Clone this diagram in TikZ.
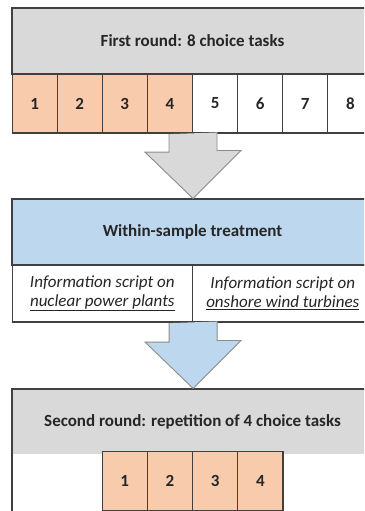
\documentclass[tikz,border=0pt]{standalone}
\usepackage{fontspec}
\setmainfont{Carlito}
\usetikzlibrary{calc}

\definecolor{hdgray}{HTML}{D9D9D9}
\definecolor{hdblue}{HTML}{BDD7EE}
\definecolor{salmon}{HTML}{F8CBAD}
\definecolor{linec}{HTML}{404040}
\definecolor{arrowline}{HTML}{8C8C8C}
\definecolor{txt}{HTML}{262626}

\tikzset{
  box/.style={draw=linec, line width=1.1pt, inner sep=0pt, text=txt},
  cell/.style={box, minimum width=45.1pt, minimum height=59pt, font=\fontsize{17}{20}\selectfont\bfseries},
  header/.style={box, minimum width=361pt, minimum height=66pt, font=\fontsize{17}{20}\selectfont\bfseries},
  info/.style={box, minimum width=180.5pt, minimum height=57pt, align=center, font=\fontsize{17}{19}\selectfont\itshape},
  blockarrow/.style={line width=0.9pt, draw=arrowline, line join=miter}
}

\begin{document}
\begin{tikzpicture}[x=1pt, y=-1pt]
        \useasboundingbox (0,0) rectangle (364,511);
        \clip (0,0) rectangle (364,511);
        \begin{scope}[every node/.append style={fill=white}]
                \node[header, fill=hdgray] (fr) at (192.5,41) {First round: 8 choice tasks};
                \node[cell, fill=salmon] (c1) at (34.6,103.5) {1};
                \node[cell, fill=salmon] (c2) at (79.7,103.5) {2};
                \node[cell, fill=salmon] (c3) at (124.8,103.5) {3};
                \node[cell, fill=salmon] (c4) at (169.9,103.5) {4};
                \node[cell] (c5) at (215.1,103.5) {5};
                \node[cell] (c6) at (260.2,103.5) {6};
                \node[cell] (c7) at (305.3,103.5) {7};
                \node[cell] (c8) at (350.4,103.5) {8};
        \end{scope}
        \begin{scope}[every node/.append style={fill=white}]
                \node[header, fill=hdblue] (wst) at (192.5,232) {Within-sample treatment};
                \node[info] (nuc) at (102.3,293.5) {Information script on\\\underline{nuclear power plants}};
                \node[info] (wind) at (282.8,293.5) {Information script on\\\underline{onshore wind turbines}};
        \end{scope}
        \node[box, fill=white, minimum width=361pt, minimum height=171pt] (sr) at (192.5,474.5) {};
        \node[header, draw=none, fill=hdgray, minimum width=359.9pt, minimum height=64pt] (srh) at (192.5,421.5) {Second round: repetition of 4 choice tasks};
        \begin{scope}[every node/.append style={fill=salmon}]
                \node[cell] (r1) at (124.6,481) {1};
                \node[cell] (r2) at (169.9,481) {2};
                \node[cell] (r3) at (215.1,481) {3};
                \node[cell] (r4) at (260.4,481) {4};
        \end{scope}
        \filldraw[blockarrow, fill=hdgray] ($(c4.south east)+(-24,0.6)$) -- ++(0,18) -- ++(-24,0)
                -- (c4.south east |- wst.north) -- ++(48,-48) -- ++(-24,0) -- ++(0,-18);
        \filldraw[blockarrow, fill=hdblue] ($(nuc.south east)+(-24,0.6)$) -- ++(0,19) -- ++(-24,0)
                -- (nuc.south east |- sr.north) -- ++(48,-48) -- ++(-24,0) -- ++(0,-19);
\end{tikzpicture}
\end{document}
